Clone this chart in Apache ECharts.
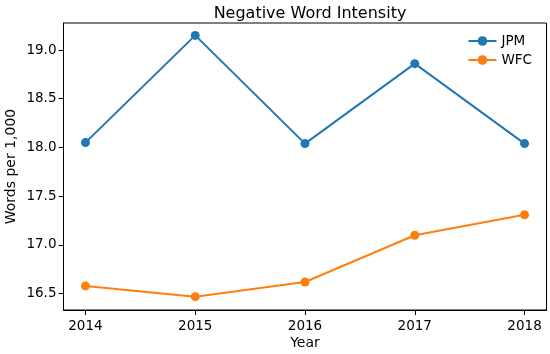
<!DOCTYPE html>
<html>
<head>
<meta charset="utf-8">
<script src="https://cdn.jsdelivr.net/npm/echarts@6/dist/echarts.min.js"></script>
<style>html,body{margin:0;padding:0;background:#fff;}#c{width:550px;height:354px;}</style>
</head>
<body>
<div id="c"></div>
<script>
var years = [2014, 2015, 2016, 2017, 2018];
var jpm = [18.05, 19.15, 18.04, 18.86, 18.04];
var wfc = [16.58, 16.47, 16.62, 17.10, 17.31];
var yTicks = [16.5, 17.0, 17.5, 18.0, 18.5, 19.0];

var chart = echarts.init(document.getElementById('c'), null, {renderer: 'canvas'});
var font = 'DejaVu Sans';
function pairs(v) { return years.map(function (y, i) { return [y, v[i]]; }); }
chart.setOption({
  animation: false,
  backgroundColor: '#fff',
  title: {
    text: 'Negative Word Intensity', left: 305, top: 1, textAlign: 'center',
    textStyle: {fontFamily: font, fontSize: 16, fontWeight: 'normal', color: '#000'}
  },
  legend: {
    orient: 'vertical', right: 13, top: 29, itemGap: 5, itemWidth: 28, itemHeight: 12,
    textStyle: {fontFamily: font, fontSize: 13.5, color: '#000'},
    data: ['JPM', 'WFC']
  },
  grid: {left: 63.5, right: 3.5, top: 23, bottom: 44, show: true, borderColor: '#000', borderWidth: 1,
         containLabel: false, outerBoundsMode: 'none'},
  xAxis: {
    type: 'value', min: 2013.8, max: 2018.2,
    name: 'Year', nameLocation: 'middle', nameGap: 26, nameMoveOverlap: false,
    nameTextStyle: {fontFamily: font, fontSize: 14, color: '#000'},
    axisLine: {show: true, lineStyle: {color: '#000', width: 1}},
    axisTick: {show: true, length: 5, lineStyle: {color: '#000'}, customValues: years},
    axisLabel: {fontFamily: font, fontSize: 13.5, color: '#000', margin: 9, customValues: years, formatter: function (v) { return String(v); }},
    splitLine: {show: false}
  },
  yAxis: {
    type: 'value', min: 16.333, max: 19.277,
    name: 'Words per 1,000', nameLocation: 'middle', nameGap: 45, nameRotate: 90, nameMoveOverlap: false,
    nameTextStyle: {fontFamily: font, fontSize: 14, color: '#000'},
    axisLine: {show: true, lineStyle: {color: '#000', width: 1}},
    axisTick: {show: true, length: 5, lineStyle: {color: '#000'}, customValues: yTicks},
    axisLabel: {fontFamily: font, fontSize: 13.5, color: '#000', margin: 7, customValues: yTicks, formatter: function (v) { return v.toFixed(1); }},
    splitLine: {show: false}
  },
  series: [
    {name: 'JPM', type: 'line', data: pairs(jpm), symbol: 'circle', symbolSize: 9,
     itemStyle: {color: '#1f77b4'}, lineStyle: {color: '#1f77b4', width: 2}},
    {name: 'WFC', type: 'line', data: pairs(wfc), symbol: 'circle', symbolSize: 9,
     itemStyle: {color: '#ff7f0e'}, lineStyle: {color: '#ff7f0e', width: 2}}
  ]
});
</script>
</body>
</html>
